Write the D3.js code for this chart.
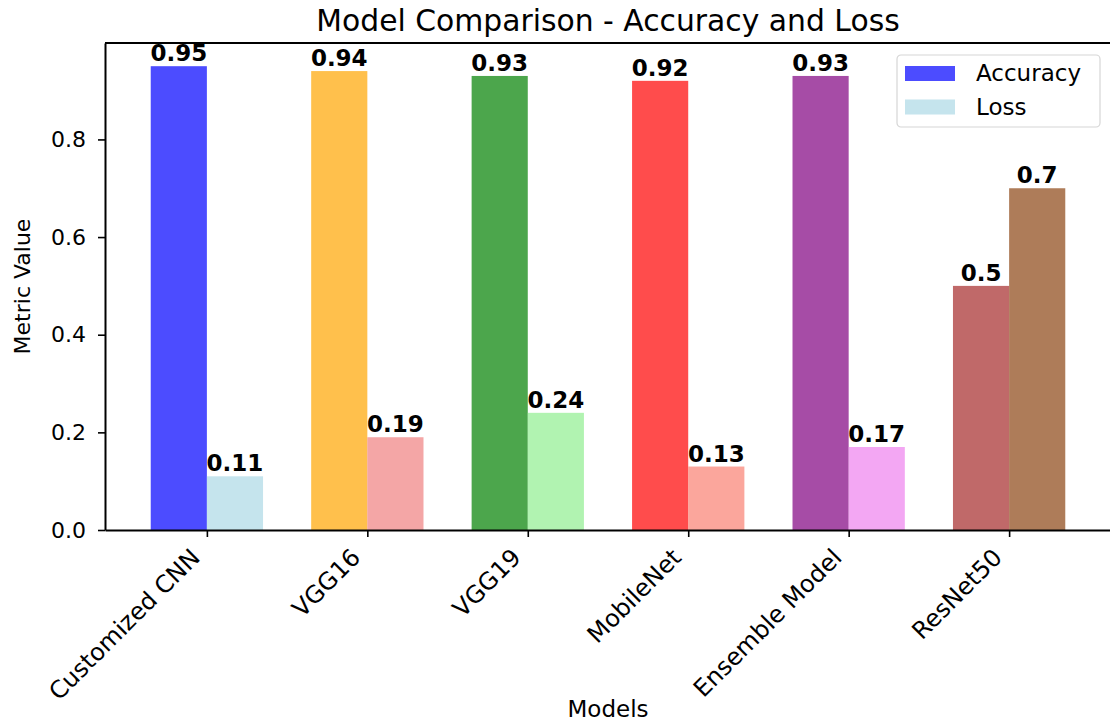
<!DOCTYPE html>
<html>
<head>
<meta charset="utf-8">
<script src="https://cdn.jsdelivr.net/npm/d3@7"></script>
<style>
  body { margin: 0; background: #fff; }
  text { font-family: "DejaVu Sans", sans-serif; }
</style>
</head>
<body>
<div id="chart"></div>
<script>
const models = ["Customized CNN", "VGG16", "VGG19", "MobileNet", "Ensemble Model", "ResNet50"];
const accuracy = [0.95, 0.94, 0.93, 0.92, 0.93, 0.5];
const loss = [0.11, 0.19, 0.24, 0.13, 0.17, 0.7];
const accColors = ["blue", "orange", "green", "red", "purple", "brown"];
const lossColors = ["lightblue", "lightcoral", "lightgreen", "salmon", "violet", "saddlebrown"];
const yTicks = [0, 0.2, 0.4, 0.6, 0.8];

var width = 1110,
    height = 724;
var plotLeft = 105, plotRight = 1111, plotTop = 43, plotBottom = 530;
var barW = 0.35;

var svg = d3.select("#chart").append("svg")
    .attr("width", width)
    .attr("height", height);

var x = d3.scaleLinear()
    .domain([-0.635, models.length - 1 + 0.635])
    .range([plotLeft, plotRight]);

var y = d3.scaleLinear()
    .domain([0, 0.9975])
    .range([plotBottom, plotTop]);

// accuracy bars
svg.append("g").selectAll("rect")
    .data(accuracy)
    .enter()
    .append("rect")
    .attr("x", (d, i) => x(i - barW))
    .attr("width", (d, i) => x(i) - x(i - barW))
    .attr("y", d => y(d))
    .attr("height", d => y(0) - y(d))
    .attr("fill", (d, i) => accColors[i])
    .attr("fill-opacity", 0.7);

// loss bars
svg.append("g").selectAll("rect")
    .data(loss)
    .enter()
    .append("rect")
    .attr("x", (d, i) => x(i))
    .attr("width", (d, i) => x(i + barW) - x(i))
    .attr("y", d => y(d))
    .attr("height", d => y(0) - y(d))
    .attr("fill", (d, i) => lossColors[i])
    .attr("fill-opacity", 0.7);

// value labels
function addLabels(vals, off) {
    svg.append("g").selectAll("text")
        .data(vals)
        .enter()
        .append("text")
        .attr("x", (d, i) => x(i + off))
        .attr("y", d => y(d + 0.01))
        .attr("text-anchor", "middle")
        .attr("font-size", 23)
        .attr("font-weight", "bold")
        .attr("fill", "#000")
        .text(d => String(d));
}
addLabels(accuracy, -barW / 2);
addLabels(loss, barW / 2);

// y axis
var yAxis = svg.append("g")
    .attr("transform", "translate(" + plotLeft + ",0)")
    .call(d3.axisLeft(y).tickValues(yTicks).tickFormat(d3.format(".1f"))
        .tickSize(7).tickSizeOuter(0).tickPadding(12));
yAxis.select(".domain").attr("stroke-width", 2);
yAxis.selectAll(".tick line").attr("stroke-width", 1.6);
yAxis.selectAll(".tick text").attr("font-size", 22).attr("fill", "#000")
    .attr("font-family", "DejaVu Sans");

// x axis
var xAxis = svg.append("g")
    .attr("transform", "translate(0," + plotBottom + ")")
    .call(d3.axisBottom(x).tickValues(d3.range(models.length))
        .tickFormat(i => models[i]).tickSize(7).tickSizeOuter(0));
xAxis.select(".domain").attr("stroke-width", 2);
xAxis.selectAll(".tick line").attr("stroke-width", 1.6);
xAxis.selectAll(".tick text")
    .attr("font-size", 24)
    .attr("font-family", "DejaVu Sans")
    .attr("fill", "#000")
    .attr("text-anchor", "end")
    .attr("dy", null)
    .attr("y", null)
    .attr("transform", "translate(-6,29) rotate(-45)");

// top spine
svg.append("line")
    .attr("x1", x.range()[0]).attr("x2", x.range()[1])
    .attr("y1", y.range()[1]).attr("y2", y.range()[1])
    .attr("stroke", "#000").attr("stroke-width", 2);

// title and axis labels
svg.append("text")
    .attr("x", (plotLeft + plotRight) / 2)
    .attr("y", 31)
    .attr("text-anchor", "middle")
    .attr("font-size", 29.8)
    .text("Model Comparison - Accuracy and Loss");

svg.append("text")
    .attr("x", (plotLeft + plotRight) / 2)
    .attr("y", 717)
    .attr("text-anchor", "middle")
    .attr("font-size", 23)
    .text("Models");

svg.append("text")
    .attr("transform", "translate(30," + ((plotTop + plotBottom) / 2) + ") rotate(-90)")
    .attr("text-anchor", "middle")
    .attr("font-size", 22)
    .text("Metric Value");

// legend
var legend = svg.append("g").attr("transform", "translate(897,55)");
legend.append("rect")
    .attr("width", 203).attr("height", 72)
    .attr("rx", 4)
    .attr("fill", "#fff").attr("fill-opacity", 0.8)
    .attr("stroke", "#d6d6d6").attr("stroke-width", 1.2);
var items = [["Accuracy", accColors[0]], ["Loss", lossColors[0]]];
items.forEach(function (it, k) {
    legend.append("rect")
        .attr("x", 8).attr("y", 11 + k * 33.5)
        .attr("width", 50).attr("height", 15)
        .attr("fill", it[1]).attr("fill-opacity", 0.7);
    legend.append("text")
        .attr("x", 79).attr("y", 26 + k * 33.5)
        .attr("font-size", 23)
        .text(it[0]);
});
</script>
</body>
</html>
